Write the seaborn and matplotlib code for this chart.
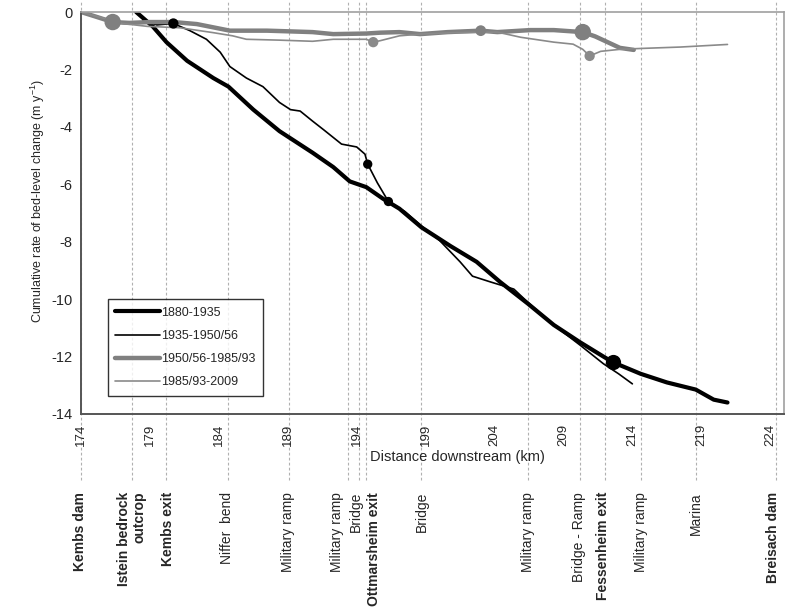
import numpy as np
import pandas as pd
import seaborn as sns
from matplotlib import pyplot as plt

# 1880-1935
km_a = [178.0, 179.2, 180.2, 181.7, 183.6, 184.7, 186.5, 188.4, 189.2, 190.8, 192.3, 193.5, 194.7, 195.9,
        197.1, 198.7, 200.8, 202.7, 204.4, 206.4, 208.3, 210.2, 211.9, 212.6, 214.6, 216.5, 218.6, 219.9, 220.9]
val_a = [0.0, -0.5, -1.05, -1.7, -2.3, -2.6, -3.4, -4.15, -4.4, -4.9, -5.4, -5.9, -6.1, -6.5,
         -6.85, -7.5, -8.15, -8.7, -9.4, -10.15, -10.9, -11.5, -12.0, -12.2, -12.6, -12.9, -13.15, -13.5, -13.6]
# 1935-1950/56
km_b = [178.5, 179.5, 180.7, 181.9, 183.1, 184.1, 184.8, 186.0, 187.2, 188.4, 189.2, 189.9, 190.8, 191.6,
        192.9, 194.0, 194.6, 194.8, 195.5, 196.3, 197.5, 198.7, 200.0, 200.6, 201.5, 202.4, 203.7, 205.4,
        206.4, 208.3, 210.2, 211.9, 213.0, 214.0]
val_b = [-0.3, -0.45, -0.4, -0.65, -0.95, -1.4, -1.9, -2.3, -2.6, -3.15, -3.4, -3.45, -3.8, -4.1,
         -4.6, -4.7, -4.95, -5.3, -5.95, -6.6, -6.95, -7.45, -7.95, -8.25, -8.7, -9.2, -9.4, -9.65,
         -10.1, -10.9, -11.6, -12.25, -12.6, -12.95]
# 1950/56-1985/93
km_c = [174.0, 175.0, 176.3, 177.5, 179.0, 180.7, 182.4, 184.8, 187.5, 190.8, 192.3, 194.7, 195.7,
        197.1, 198.6, 200.6, 203.0, 204.2, 206.6, 208.3, 210.4, 211.3, 212.2, 213.1, 214.1]
val_c = [0.0, -0.15, -0.35, -0.38, -0.35, -0.35, -0.42, -0.65, -0.65, -0.7, -0.77, -0.75, -0.72,
         -0.7, -0.77, -0.7, -0.65, -0.7, -0.63, -0.63, -0.7, -0.85, -1.05, -1.25, -1.32]
# 1985/93-2009
km_d = [174.0, 175.5, 177.0, 178.8, 181.2, 183.6, 185.0, 186.0, 188.4, 190.8, 192.3, 194.7, 195.2, 195.7,
        197.1, 198.6, 201.0, 204.2, 205.9, 208.3, 209.7, 210.4, 210.9, 211.7, 213.1, 214.6, 217.5, 220.9]
val_d = [0.0, -0.2, -0.4, -0.5, -0.55, -0.72, -0.83, -0.95, -0.98, -1.02, -0.95, -0.95, -1.05, -1.0,
         -0.83, -0.77, -0.72, -0.7, -0.88, -1.05, -1.12, -1.3, -1.53, -1.37, -1.3, -1.27, -1.22, -1.13]

# dots on the profiles
dot_a_km, dot_a_val = [212.6], [-12.2]
dot_b_km, dot_b_val = [180.7, 194.8, 196.3], [-0.4, -5.3, -6.6]
dot_c_km, dot_c_val = [176.3, 203.0, 210.4], [-0.35, -0.65, -0.7]
dot_d_km, dot_d_val = [195.2, 210.9], [-1.05, -1.53]

periods = ["1880-1935", "1935-1950/56", "1950/56-1985/93", "1985/93-2009"]

# landmarks along the river
mark_km = [174.0, 177.7, 180.2, 184.7, 189.1, 193.4, 194.2, 194.7, 198.7, 206.4, 210.2, 212.0, 214.6, 218.6, 224.4]
label_km = [173.95, 177.7, 180.3, 184.6, 189.0, 192.55, 193.95, 195.25, 198.7, 206.4, 210.1, 211.9, 214.6, 218.6, 224.2]
mark_names = ["Kembs dam", "Istein bedrock\noutcrop", "Kembs exit", "Niffer  bend", "Military ramp",
              "Military ramp", "Bridge", "Ottmarsheim exit", "Bridge", "Military ramp", "Bridge - Ramp",
              "Fessenheim exit", "Military ramp", "Marina", "Breisach dam"]
mark_bold = [True, True, True, False, False, False, False, True, False, False, False, True, False, False, True]

sns.set_theme(style="white")
plt.rcParams['font.family'] = ['Liberation Sans', 'DejaVu Sans']
plt.rcParams['axes.unicode_minus'] = False

fig = plt.figure(figsize=(7.85, 6.14), dpi=100)
ax = fig.add_axes([81/785, 1-414/614, 703/785, 402/614])

for xm in mark_km:
    ax.axvline(xm, ymin=-0.164, ymax=1.03, color="#b0b0b0", lw=0.8, ls=(0, (2.5, 2)), clip_on=False, zorder=0)

styles = [("black", 3.0), ("black", 1.2), ("#808080", 3.2), ("#8a8a8a", 1.2)]
series = [(km_a, val_a), (km_b, val_b), (km_c, val_c), (km_d, val_d)]
for (xs, ys), (col, lw), name in zip(series, styles, periods):
    d = pd.DataFrame({"km": xs, "v": ys})
    sns.lineplot(data=d, x="km", y="v", sort=False, estimator=None, color=col, lw=lw, label=name, ax=ax)

dots = [(dot_a_km, dot_a_val, "black", [120]), (dot_b_km, dot_b_val, "black", [55, 45, 45]),
        (dot_c_km, dot_c_val, "#808080", [140, 60, 140]), (dot_d_km, dot_d_val, "#8a8a8a", [55, 55])]
for xs, ys, col, sz in dots:
    sns.scatterplot(x=xs, y=ys, color=col, s=sz, edgecolor=col, linewidth=0, legend=False, ax=ax, zorder=5)

ax.set_xlim(174, 225.0)
ax.set_ylim(-14, 0)
ax.set_xticks(np.arange(174, 225, 5))
ax.set_yticks(np.arange(-14, 1, 2))
ax.tick_params(axis="x", labelrotation=90, labelsize=9.5, direction="inout", length=6, width=1, color="#555555", pad=4)
ax.tick_params(axis="y", labelsize=10.5, direction="inout", length=6, width=1, color="#555555", pad=3)
for lab in ax.get_xticklabels():
    lab.set_verticalalignment("top")

for side in ["left", "bottom"]:
    ax.spines[side].set_color("#555555")
    ax.spines[side].set_linewidth(1.4)
for side in ["top", "right"]:
    ax.spines[side].set_color("#a0a0a0")
    ax.spines[side].set_linewidth(1.2)

ax.set_xlabel("Distance downstream (km)", fontsize=10.5)
ax.xaxis.set_label_coords(0.535, -0.09)
ax.set_ylabel("Cumulative rate of bed-level change (m y$^{\\mathregular{-1}}$)", fontsize=9)
ax.yaxis.set_label_coords(-0.048, 0.53)

for xk, name, b in zip(label_km, mark_names, mark_bold):
    ax.text(xk, -0.194, name, transform=ax.get_xaxis_transform(), rotation=90, ha="center", va="top",
            multialignment="right", fontsize=10, fontweight="bold" if b else "normal", linespacing=1.1)

leg = ax.legend(loc="lower left", bbox_to_anchor=(0.038, 0.045), borderaxespad=0, fontsize=9, frameon=True,
                fancybox=False, handlelength=3.6, handletextpad=0.1, borderpad=0.6, labelspacing=0.9)
leg.get_frame().set_edgecolor("black")
leg.get_frame().set_linewidth(1.0)

fig.savefig("out.png", dpi=100)
